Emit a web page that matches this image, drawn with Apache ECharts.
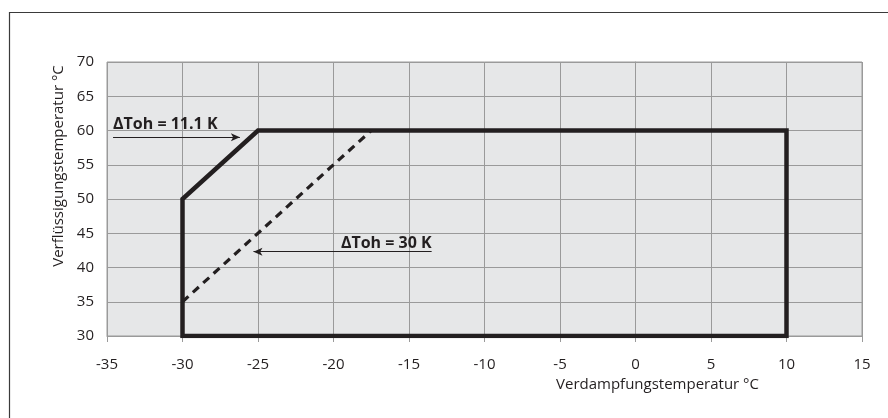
<!DOCTYPE html>
<html>
<head>
<meta charset="utf-8">
<script src="https://cdn.jsdelivr.net/npm/echarts@6/dist/echarts.min.js"></script>
<style>
html,body{margin:0;padding:0;background:#fff;}
#chart{width:888px;height:418px;}
</style>
</head>
<body>
<div id="chart"></div>
<script>
// ---- data ----
const xTicks = [-35, -30, -25, -20, -15, -10, -5, 0, 5, 10, 15];
const yTicks = [30, 35, 40, 45, 50, 55, 60, 65, 70];
const envelopeX = [-30, -30, -25, 10, 10, -30];
const envelopeY = [30, 50, 60, 60, 30, 30];
const dashedX = [-30, -17.5];
const dashedY = [35, 60];
const annoTexts = ['ΔToh = 11.1 K', 'ΔToh = 30 K'];
const annoTailX = [-34.6, -13.5];   // end without arrowhead
const annoHeadX = [-26.2, -25.3];   // end with arrowhead
const annoY = [59.0, 42.3];
const xName = 'Verdampfungstemperatur °C';
const yName = 'Verflüssigungstemperatur °C';

const FONT = 'Open Sans';
const TXT = '#231f20';
const GRID = '#9a9a9a';

const chart = echarts.init(document.getElementById('chart'), null, {renderer: 'canvas'});

const envelope = envelopeX.map((x, i) => [x, envelopeY[i]]);
const dashed = dashedX.map((x, i) => [x, dashedY[i]]);

const arrows = [
  // 11.1 K: tail on the left, arrow pointing right, label above the tail
  [
    {coord: [annoTailX[0], annoY[0]], symbol: 'none',
     label: {show: true, formatter: annoTexts[0], position: 'insideStartTop', distance: [0, 5]}},
    {coord: [annoHeadX[0], annoY[0]], symbol: 'arrow'}
  ],
  // 30 K: arrow on the left pointing left, label right-aligned above the tail
  [
    {coord: [annoHeadX[1], annoY[1]], symbol: 'arrow',
     label: {show: true, formatter: annoTexts[1], position: 'insideEndTop', distance: [0, 0]}},
    {coord: [annoTailX[1], annoY[1]], symbol: 'none'}
  ]
];

const option = {
  animation: false,
  graphic: [{
    type: 'rect', left: 7, top: 10, silent: true,
    shape: {width: 900, height: 430},
    style: {fill: 'none', stroke: '#3a3a3a', lineWidth: 1.2}
  }],
  grid: {
    left: 107, right: 26, top: 62, bottom: 82,
    show: true, backgroundColor: '#e6e7e8', borderColor: GRID, borderWidth: 1
  },
  xAxis: {
    type: 'value', min: -35, max: 15, interval: 5,
    name: xName, nameLocation: 'middle', nameGap: 39,
    nameTextStyle: {fontFamily: FONT, fontSize: 15, color: TXT, padding: [0, 0, 0, 346]},
    axisLine: {show: true, lineStyle: {color: GRID, width: 1}},
    axisTick: {show: true, length: 6, lineStyle: {color: GRID}},
    axisLabel: {fontFamily: FONT, fontSize: 15, color: TXT, margin: 21},
    splitLine: {show: true, lineStyle: {color: GRID, width: 1}}
  },
  yAxis: {
    type: 'value', min: 30, max: 70, interval: 5,
    name: yName, nameLocation: 'middle', nameGap: 35, nameRotate: 90,
    nameTextStyle: {fontFamily: FONT, fontSize: 15, color: TXT, padding: [0, 0, 0, 66]},
    axisLine: {show: true, lineStyle: {color: GRID, width: 1}},
    axisTick: {show: true, length: 6, lineStyle: {color: GRID}},
    axisLabel: {fontFamily: FONT, fontSize: 15, color: TXT, margin: 13},
    splitLine: {show: true, lineStyle: {color: GRID, width: 1}}
  },
  series: [
    {
      type: 'line', data: envelope, symbol: 'none', silent: true,
      lineStyle: {color: TXT, width: 4.5, join: 'miter', cap: 'square'},
      markLine: {
        silent: true, animation: false, symbolSize: [6, 9],
        lineStyle: {color: TXT, width: 1, type: 'solid'},
        label: {fontFamily: FONT, fontSize: 16, fontWeight: 'bold', color: TXT},
        data: arrows
      }
    },
    {
      type: 'line', data: dashed, symbol: 'none', silent: true,
      lineStyle: {color: TXT, width: 3.2, type: [8, 6]}
    }
  ]
};
chart.setOption(option);
</script>
</body>
</html>
